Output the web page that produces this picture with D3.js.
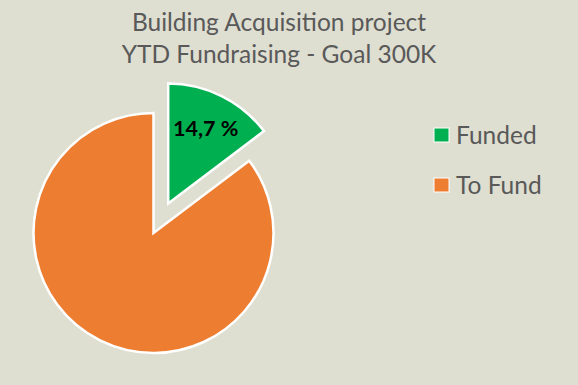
<!DOCTYPE html>
<html>
<head>
<meta charset="utf-8">
<script src="https://cdn.jsdelivr.net/npm/d3@7"></script>
<style>
  body { margin: 0; background: #DEDED1; }
  svg { display: block; font-family: Lato, "Open Sans", sans-serif; }
</style>
</head>
<body>
<div id="chart"></div>
<script>
var width = 578, height = 385;

// Define data
var categories = ["Funded", "To Fund"];
var values = [14.7, 85.3];
var colors = ["#00B050", "#ED7D31"];
var titleLines = ["Building Acquisition project", "YTD Fundraising - Goal 300K"];

var svg = d3.select("#chart")
    .append("svg")
    .attr("width", width)
    .attr("height", height);

svg.append("rect")
    .attr("width", width)
    .attr("height", height)
    .attr("fill", "#DEDED1");

// Title
svg.selectAll("text.title")
    .data(titleLines)
    .enter().append("text")
    .attr("class", "title")
    .attr("x", 279)
    .attr("y", function(d, i) { return 31 + i * 32; })
    .attr("text-anchor", "middle")
    .attr("fill", "#595959")
    .style("font-size", "24.5px")
    .text(function(d) { return d; });

// Pie
var radius = 120;
var explode = 33;
var cx = 153.5, cy = 233;

var pie = d3.pie().sort(null).value(function(d) { return d; });
var arcs = pie(values);

var arc = d3.arc().innerRadius(0).outerRadius(radius);
var labelArc = d3.arc().innerRadius(radius * 0.7).outerRadius(radius * 0.7);

var g = svg.append("g")
    .attr("transform", `translate(${cx}, ${cy})`);

var slices = g.selectAll("g.slice")
    .data(arcs)
    .enter().append("g")
    .attr("class", "slice")
    .attr("transform", function(d, i) {
      if (i !== 0) return null;
      var mid = (d.startAngle + d.endAngle) / 2;
      return `translate(${Math.sin(mid) * explode}, ${-Math.cos(mid) * explode})`;
    });

slices.append("path")
    .attr("d", arc)
    .attr("fill", function(d, i) { return colors[i]; })
    .attr("stroke", "#ffffff")
    .attr("stroke-width", 2.5)
    .attr("stroke-linejoin", "miter");

// Data label on the funded slice
slices.filter(function(d, i) { return i === 0; })
    .append("text")
    .attr("transform", function(d) { return `translate(${labelArc.centroid(d)})`; })
    .attr("dy", "0.35em")
    .attr("text-anchor", "middle")
    .attr("fill", "#000000")
    .style("font-size", "21.5px")
    .style("font-weight", "bold")
    .text(function(d) { return d.data.toFixed(1).replace(".", ",") + " %"; });

// Legend
var legend = svg.selectAll("g.legend")
    .data(categories)
    .enter().append("g")
    .attr("class", "legend")
    .attr("transform", function(d, i) { return `translate(434, ${128 + i * 50})`; });

legend.append("rect")
    .attr("width", 15)
    .attr("height", 14)
    .attr("fill", function(d, i) { return colors[i]; })
    .attr("stroke", "#ffffff")
    .attr("stroke-width", 1);

legend.append("text")
    .attr("x", 22)
    .attr("y", 7)
    .attr("dy", "0.36em")
    .attr("fill", "#595959")
    .style("font-size", "24.5px")
    .text(function(d) { return d; });
</script>
</body>
</html>
